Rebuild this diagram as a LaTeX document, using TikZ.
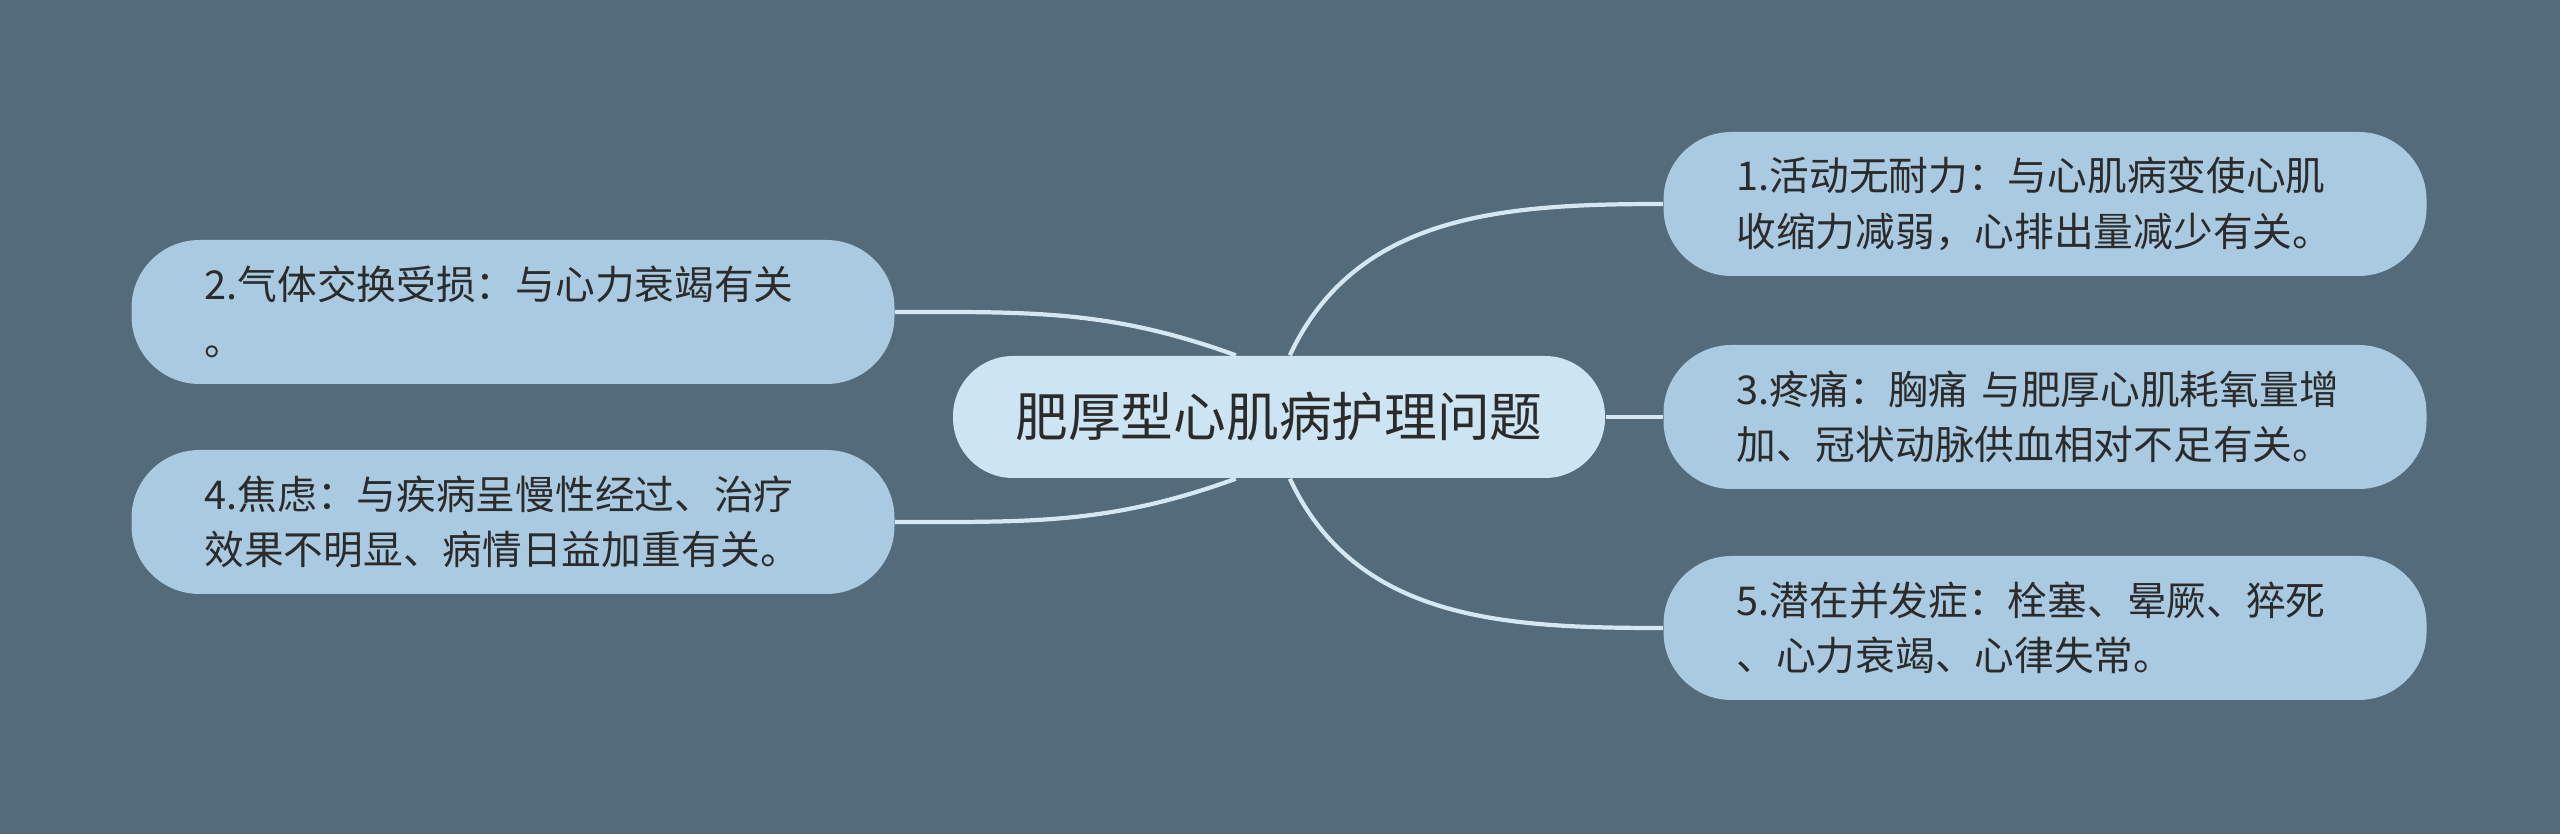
\documentclass[tikz,border=0pt]{standalone}
\usepackage{fontspec}
\setmainfont{Noto Sans CJK SC}
\usetikzlibrary{backgrounds}
\definecolor{bgcol}{HTML}{546B7B}
\definecolor{leafcol}{HTML}{AACAE1}
\definecolor{rootcol}{HTML}{CDE5F2}
\definecolor{linkcol}{HTML}{D4E7F3}
\definecolor{inkcol}{HTML}{2B2B2B}
\begin{document}
\begin{tikzpicture}[
    rootbox/.style={fill=rootcol, rounded corners=0.6cm, minimum width=6.52cm,
      minimum height=1.22cm, inner sep=0pt, text=inkcol,
      font=\fontsize{15pt}{18pt}\selectfont},
    leafbox/.style={fill=leafcol, rounded corners=0.68cm, minimum width=7.63cm,
      minimum height=1.44cm, inner sep=0pt, text width=6.17cm, align=left,
      text=inkcol, font=\fontsize{11.3pt}{15.8pt}\selectfont},
    link/.style={draw=linkcol, line width=1.2pt}
  ]
  \useasboundingbox (0,0) rectangle (25.6,8.34);
  \draw
    (12.79,4.17) node[rootbox] (root){肥厚型心肌病护理问题}
    (20.45,6.30) node[leafbox] (p1){1.活动无耐力：与心肌病变使心肌\\收缩力减弱，心排出量减少有关。}
    (5.13,5.22) node[leafbox] (p2){2.气体交换受损：与心力衰竭有关\\。}
    (20.45,4.17) node[leafbox] (p3){3.疼痛：胸痛 与肥厚心肌耗氧量增\\加、冠状动脉供血相对不足有关。}
    (5.13,3.12) node[leafbox] (p4){4.焦虑：与疾病呈慢性经过、治疗\\效果不明显、病情日益加重有关。}
    (20.45,2.06) node[leafbox] (p5){5.潜在并发症：栓塞、晕厥、猝死\\、心力衰竭、心律失常。};
  \begin{scope}[on background layer]
    \fill[bgcol] (0,0) rectangle (25.6,8.34);
    \draw[link] (root.80) to[out=65,in=180] (p1.west);
    \draw[link] (root.125) to[out=160,in=0] (p2.east);
    \draw[link] (root.east) -- (p3.west);
    \draw[link] (root.235) to[out=200,in=0] (p4.east);
    \draw[link] (root.-80) to[out=-65,in=180] (p5.west);
  \end{scope}
\end{tikzpicture}
\end{document}
